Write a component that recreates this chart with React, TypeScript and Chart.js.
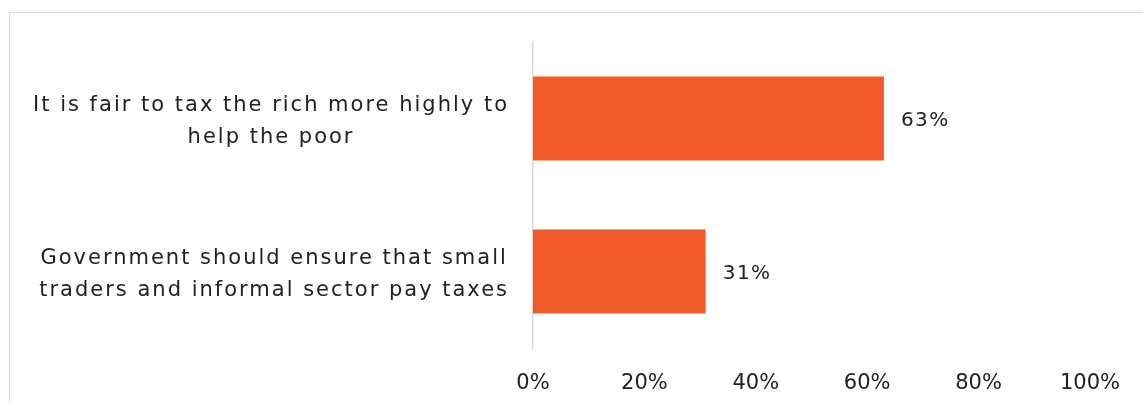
import React, { useEffect, useRef } from "react";
import { Chart, registerables } from "chart.js";

Chart.register(...registerables);

const categories: string[][] = [
  ["It is fair to tax the rich more highly to", "help the poor"],
  ["Government should ensure that small", "traders and informal sector pay taxes"],
];
const values: number[] = [63, 31];
const tickValues: number[] = [0, 20, 40, 60, 80, 100];

const BAR_COLOR = "#F15A2B";
const TEXT_COLOR = "#222222";
const FONT_FAMILY = "'DejaVu Sans', sans-serif";

const categoryLabelPlugin = {
  id: "categoryLabels",
  afterDraw(chart: any) {
    const { ctx } = chart;
    const yScale = chart.scales.y;
    const spacing = 2.0;
    const lineGap = 32;
    const rightEdge = yScale.right - 26;
    ctx.save();
    ctx.font = `21px ${FONT_FAMILY}`;
    ctx.fillStyle = TEXT_COLOR;
    ctx.textAlign = "left";
    ctx.textBaseline = "middle";
    (ctx as any).letterSpacing = `${spacing}px`;
    categories.forEach((lines, i) => {
      const y = yScale.getPixelForValue(i) + 3;
      const widths = lines.map((l) => ctx.measureText(l).width - spacing);
      const maxW = Math.max(...widths);
      const center = rightEdge - maxW / 2;
      const startY = y - ((lines.length - 1) * lineGap) / 2;
      lines.forEach((line, j) => {
        ctx.fillText(line, center - widths[j] / 2, startY + j * lineGap);
      });
    });
    ctx.restore();
  },
};

const valueLabelPlugin = {
  id: "valueLabels",
  afterDatasetsDraw(chart: any) {
    const { ctx } = chart;
    const meta = chart.getDatasetMeta(0);
    ctx.save();
    ctx.font = `20px ${FONT_FAMILY}`;
    ctx.fillStyle = TEXT_COLOR;
    ctx.textAlign = "left";
    ctx.textBaseline = "middle";
    (ctx as any).letterSpacing = "1.5px";
    meta.data.forEach((bar: any, i: number) => {
      ctx.fillText(`${values[i]}%`, bar.x + 17, bar.y + 2);
    });
    ctx.restore();
  },
};

export default function App() {
  const canvasRef = useRef<HTMLCanvasElement | null>(null);

  useEffect(() => {
    const canvas = canvasRef.current;
    if (!canvas) return;
    const chart = new Chart(canvas, {
      type: "bar",
      data: {
        labels: categories,
        datasets: [
          {
            data: values,
            backgroundColor: BAR_COLOR,
            borderWidth: 0,
            categoryPercentage: 1,
            barPercentage: 0.55,
          },
        ],
      },
      options: {
        indexAxis: "y",
        responsive: false,
        animation: false,
        layout: { padding: { top: 42, right: 50, bottom: 0, left: 0 } },
        plugins: {
          legend: { display: false },
          tooltip: { enabled: false },
        },
        scales: {
          x: {
            min: 0,
            max: 100,
            afterBuildTicks: (scale: any) => {
              scale.ticks = tickValues.map((v) => ({ value: v }));
            },
            afterFit: (scale: any) => {
              scale.height = 55;
            },
            grid: { display: false, drawTicks: false },
            border: { display: false },
            ticks: {
              padding: 23,
              color: TEXT_COLOR,
              font: { family: FONT_FAMILY, size: 21 },
              maxRotation: 0,
              callback: (v: any) => `${v}%`,
            },
          },
          y: {
            afterFit: (scale: any) => {
              scale.width = 533;
            },
            grid: { display: false, drawTicks: false },
            border: { display: true, color: "#d9d9d9", width: 1.5 },
            ticks: { display: false },
          },
        },
      },
      plugins: [categoryLabelPlugin, valueLabelPlugin],
    });
    return () => chart.destroy();
  }, []);

  return (
    <div style={{ position: "fixed", left: 0, top: 0, width: 1143, height: 403, background: "#fff" }}>
      <div
        style={{
          position: "absolute",
          left: 9,
          top: 12,
          width: 1200,
          height: 500,
          borderTop: "1.5px solid #d9d9d9",
          borderLeft: "1.5px solid #d9d9d9",
        }}
      />
      <canvas
        ref={canvasRef}
        width={1143}
        height={403}
        style={{ position: "absolute", left: 0, top: 0, width: 1143, height: 403 }}
      />
    </div>
  );
}
